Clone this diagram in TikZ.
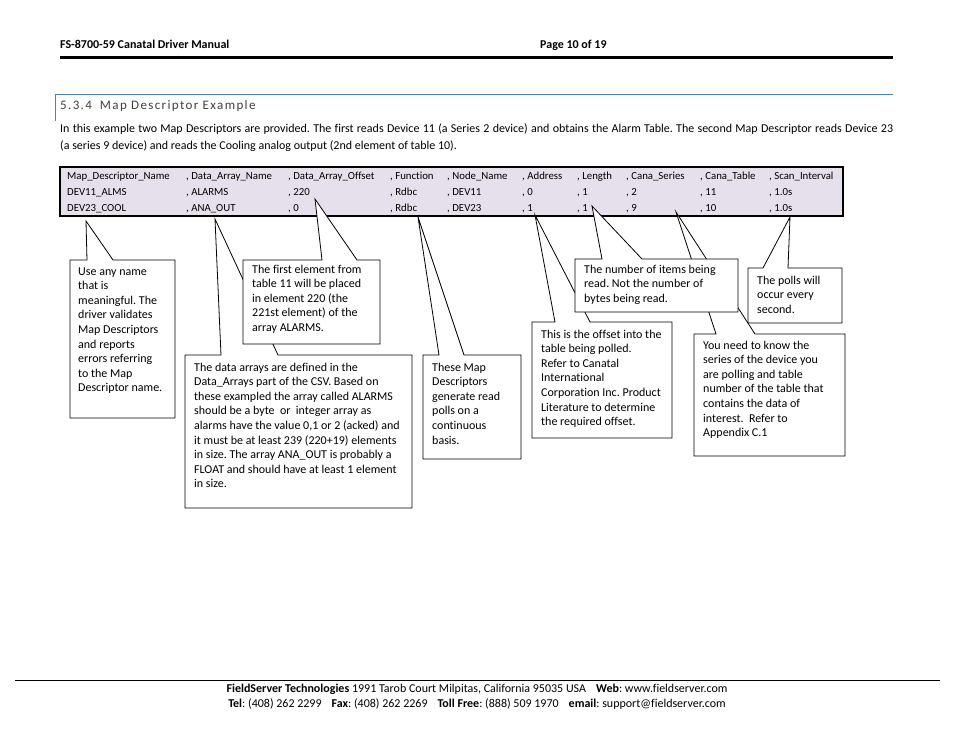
\documentclass[tikz,border=0pt]{standalone}
\usepackage{fontspec}
\setmainfont[Ligatures=NoCommon]{Carlito}
\newfontfamily\headfont[LetterSpace=10.5,Ligatures=NoCommon]{Carlito}
\frenchspacing

\definecolor{mdfill}{HTML}{E5E0EC}
\definecolor{headblue}{HTML}{4F81BD}

\tikzset{
  callout/.style={draw=black, fill=white, line width=0.8pt, line join=miter},
  calltext/.style={anchor=north west, inner sep=0pt, align=left, font=\fontsize{12}{14.6}\selectfont},
  cell/.style={anchor=base west, inner sep=0pt, font=\fontsize{10.8}{13}\selectfont},
  pagehead/.style={anchor=base west, inner sep=0pt, font=\fontsize{12}{14}\selectfont\bfseries},
  foot/.style={anchor=base, inner sep=0pt, font=\fontsize{12}{14}\selectfont}
}

% box with a wedge pointing at the table: left, top, right, bottom, wedge base x1, x2, tip
\newcommand{\callout}[7]{%
  \filldraw[callout] (#1,#2) -- (#5,#2) -- (#7) -- (#6,#2) -- (#3,#2) -- (#3,#4) -- (#1,#4) -- cycle;}

\begin{document}
\begin{tikzpicture}[x=1pt,y=-1pt]
  \useasboundingbox (0,0) rectangle (954,738);

  % page header
  \node[pagehead] (doctitle) at (60,49) {FS-8700-59 Canatal Driver Manual};
  \node[pagehead] (pageno) at (540,49) {Page 10 of 19};
  \draw[line width=3.5pt] (60,57.5) -- (893,57.5);

  % section heading
  \draw[headblue, line width=0.8pt] (55.5,121) -- (55.5,94) -- (893,94);
  \node[anchor=base west, inner sep=0pt, text=black!75, font={\fontsize{13}{15}\headfont}] (secthead) at (60,109.5) {5.3.4\hspace{8pt}Map Descriptor Example};
  \node[anchor=north west, inner sep=0pt, text width=833pt, align=justify, font=\fontsize{12}{17}\selectfont] (intro) at (60,120.9)
    {\strut In this example two Map Descriptors are provided. The first reads Device 11 (a Series 2 device) and obtains the Alarm Table. The second Map Descriptor reads Device 23\linebreak (a series 9 device) and reads the Cooling analog output (2nd element of table 10).};

  % the map descriptor table
  \draw[fill=mdfill, line width=1.3pt] (60,167) rectangle (843,216);
  \node[cell] (hd0) at (67,179.5) {Map\_Descriptor\_Name};
  \node[cell] (ra0) at (67,195.5) {DEV11\_ALMS};
  \node[cell] (rb0) at (67,211.5) {DEV23\_COOL};
  \foreach \cx/\hd/\ra/\rb [count=\i] in {186/Data\_Array\_Name/ALARMS/ANA\_OUT, 288/Data\_Array\_Offset/220/0,
      390/Function/Rdbc/Rdbc, 447/Node\_Name/DEV11/DEV23, 522/Address/0/1, 577/Length/1/1,
      626/Cana\_Series/2/9, 700/Cana\_Table/11/10, 769/Scan\_Interval/1.0s/1.0s} {
    \node[cell] (hd\i) at (\cx,179.5) {, \hd};
    \node[cell] (ra\i) at (\cx,195.5) {, \ra};
    \node[cell] (rb\i) at (\cx,211.5) {, \rb};
  }

  % where the wedges point
  \coordinate (tipname) at (86,221);
  \coordinate (tiparray) at (215,219);
  \coordinate (tipoffset) at (315,199);
  \coordinate (tipfunc) at (418,217);
  \coordinate (tipaddr) at (535,215);
  \coordinate (tiplength) at (592,206);
  \coordinate (tipseries) at (676,212);
  \coordinate (tipscan) at (790,217);

  % callouts, later ones lie over earlier wedges
  \callout{70}{260}{175}{418}{87}{113}{tipname}
  \callout{185}{355}{412}{508}{221}{278}{tiparray}
  \callout{243}{260}{380}{344}{322}{357}{tipoffset}
  \callout{423}{355}{521}{459}{439}{464}{tipfunc}
  \callout{532}{322}{672}{438}{555}{590}{tipaddr}
  \callout{694}{334}{845}{456}{716}{755}{tipseries}
  \callout{575}{259}{738}{312}{602}{642}{tiplength}
  \callout{748}{268}{842}{323}{763}{788}{tipscan}

  \node[calltext] (nameinfo) at (78,264.6) {\strut Use any name\\that is\\meaningful. The\\driver validates\\Map Descriptors\\and reports\\errors referring\\to the Map\\Descriptor name.};
  \node[calltext] (arrayinfo) at (194,360.6) {\strut The data arrays are defined in the\\Data\_Arrays part of the CSV. Based on\\these exampled the array called ALARMS\\should be a byte~ or~ integer array as\\alarms have the value 0,1 or 2 (acked) and\\it must be at least 239 (220+19) elements\\in size. The array ANA\_OUT is probably a\\FLOAT and should have at least 1 element\\in size.};
  \node[calltext] (offsetinfo) at (252,262.6) {\strut The first element from\\table 11 will be placed\\in element 220 (the\\221st element) of the\\array ALARMS.};
  \node[calltext] (funcinfo) at (432,360.6) {\strut These Map\\Descriptors\\generate read\\polls on a\\continuous\\basis.};
  \node[calltext] (addrinfo) at (541,327.6) {\strut This is the offset into the\\table being polled.\\Refer to Canatal\\International\\Corporation Inc. Product\\Literature to determine\\the required offset.};
  \node[calltext] (seriesinfo) at (703,338.6) {\strut You need to know the\\series of the device you\\are polling and table\\number of the table that\\contains the data of\\interest.~ Refer to\\Appendix C.1};
  \node[calltext] (lengthinfo) at (584,262.6) {\strut The number of items being\\read. Not the number of\\bytes being read.};
  \node[calltext] (scaninfo) at (757,273.6) {\strut The polls will\\occur every\\second.};

  % page footer
  \draw[line width=0.7pt] (15,680) -- (940,680);
  \node[foot] (footaddr) at (477,692.5) {\textbf{FieldServer Technologies} 1991 Tarob Court Milpitas, California 95035 USA\hspace{10pt}\textbf{Web}: www.fieldserver.com};
  \node[foot] (footcontact) at (477,707) {\textbf{Tel}: (408) 262 2299\hspace{10pt}\textbf{Fax}: (408) 262 2269\hspace{10pt}\textbf{Toll Free}: (888) 509 1970\hspace{10pt}\textbf{email}: support@fieldserver.com};
\end{tikzpicture}
\end{document}
